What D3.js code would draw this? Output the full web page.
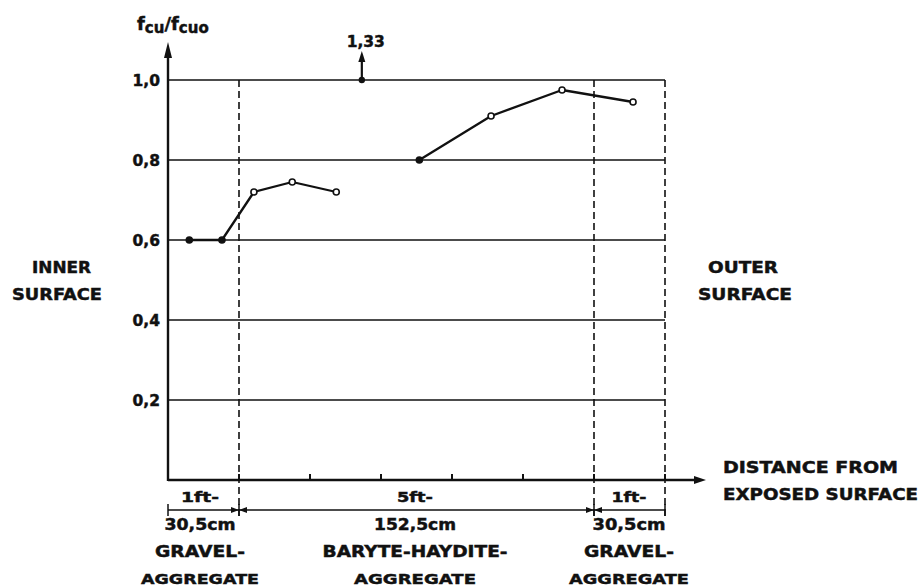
<!DOCTYPE html>
<html><head><meta charset="utf-8">
<script src="https://cdn.jsdelivr.net/npm/d3@7"></script>
<style>
html,body{margin:0;padding:0;background:#fff;}
text{font-family:"DejaVu Sans",sans-serif;font-weight:bold;fill:#111;stroke:#111;stroke-width:0.45px;}
</style></head>
<body><svg id="c" width="924" height="588"></svg>
<script>
// ---- data ----
const yTicks = [0.2, 0.4, 0.6, 0.8, 1.0];
const yTickLabels = ["0,2", "0,4", "0,6", "0,8", "1,0"];
const xTicks = [1, 2, 3, 4, 5, 6, 7];
const zoneBounds = [0, 1, 6, 7];            // ft
const zoneTop = ["1ft-", "5ft-", "1ft-"];
const zoneCm = ["30,5cm", "152,5cm", "30,5cm"];
const zoneName1 = ["GRAVEL-", "BARYTE-HAYDITE-", "GRAVEL-"];
const zoneName2 = ["AGGREGATE", "AGGREGATE", "AGGREGATE"];
const s1x = [0.30, 0.76, 1.21, 1.75, 2.37];
const s1y = [0.60, 0.60, 0.72, 0.745, 0.72];
const s1filled = [true, true, false, false, false];
const s2x = [3.54, 4.55, 5.55, 6.55];
const s2y = [0.80, 0.91, 0.975, 0.945];
const s2filled = [true, false, false, false];
const outX = 2.73, outY = 1.0, outLabel = "1,33";

// ---- scales ----
const x = d3.scaleLinear().domain([0, 7]).range([168, 665]);
const y = d3.scaleLinear().domain([0, 1]).range([480, 80]);
const svg = d3.select("#c");
const ink = "#111";

// gridlines (horizontal solid)
svg.append("g").selectAll("line").data(yTicks).join("line")
  .attr("x1", x(0)).attr("x2", x(7)).attr("y1", d => y(d)).attr("y2", d => y(d))
  .attr("stroke", ink).attr("stroke-width", 1.6);

// vertical dashed zone lines
svg.append("g").selectAll("line").data([1, 6, 7]).join("line")
  .attr("x1", d => x(d)).attr("x2", d => x(d)).attr("y1", y(1)).attr("y2", 516)
  .attr("stroke", ink).attr("stroke-width", 1.6).attr("stroke-dasharray", "7,4");

// x-axis ticks
svg.append("g").selectAll("line").data(xTicks).join("line")
  .attr("x1", d => x(d)).attr("x2", d => x(d)).attr("y1", 474).attr("y2", 480)
  .attr("stroke", ink).attr("stroke-width", 2);

// axes
svg.append("line").attr("x1", x(0)).attr("x2", 698).attr("y1", 480).attr("y2", 480)
  .attr("stroke", ink).attr("stroke-width", 2.4);
svg.append("path").attr("d", "M706,480 L694,476 L694,484 Z").attr("fill", ink);
svg.append("line").attr("x1", x(0)).attr("x2", x(0)).attr("y1", 481).attr("y2", 52)
  .attr("stroke", ink).attr("stroke-width", 2.4);
svg.append("path").attr("d", "M168,42 L164,58 L172,58 Z").attr("fill", ink);

// y tick labels
svg.append("g").selectAll("text").data(yTicks).join("text")
  .attr("x", 160).attr("y", d => y(d) + 6).attr("text-anchor", "end")
  .attr("font-size", 15.5).text((d, i) => yTickLabels[i]);

// y axis title f_cu / f_cuo
const yt = svg.append("text").attr("x", 137).attr("y", 30).attr("font-size", 18);
yt.append("tspan").text("f");
yt.append("tspan").attr("font-size", 15).attr("dy", 3).text("cu");
yt.append("tspan").attr("dy", -3).text("/f");
yt.append("tspan").attr("font-size", 15).attr("dy", 3).text("cuo");

// data lines
const line = d3.line().x(d => x(d[0])).y(d => y(d[1]));
const s1 = s1x.map((v, i) => [v, s1y[i], s1filled[i]]);
const s2 = s2x.map((v, i) => [v, s2y[i], s2filled[i]]);
[s1, s2].forEach(s => {
  svg.append("path").datum(s).attr("d", line).attr("fill", "none")
    .attr("stroke", ink).attr("stroke-width", 2.3).attr("stroke-linejoin", "round");
  svg.append("g").selectAll("circle").data(s).join("circle")
    .attr("cx", d => x(d[0])).attr("cy", d => y(d[1])).attr("r", 3)
    .attr("fill", d => d[2] ? ink : "#fff").attr("stroke", ink).attr("stroke-width", 1.6);
});

// off-scale point with arrow
svg.append("circle").attr("cx", x(outX)).attr("cy", y(outY)).attr("r", 3.2).attr("fill", ink);
svg.append("line").attr("x1", x(outX)).attr("x2", x(outX)).attr("y1", y(outY)).attr("y2", 60)
  .attr("stroke", ink).attr("stroke-width", 2.2);
svg.append("path").attr("d", `M${x(outX)},51 L${x(outX)-3.5},62 L${x(outX)+3.5},62 Z`).attr("fill", ink);
svg.append("text").attr("x", x(outX) + 4).attr("y", 47).attr("text-anchor", "middle")
  .attr("font-size", 15.5).attr("textLength", 38).text(outLabel);

// side labels
function label(t, cx, by, w, fs) {
  svg.append("text").attr("x", cx).attr("y", by).attr("text-anchor", "middle")
    .attr("font-size", fs || 15).attr("textLength", w).attr("lengthAdjust", "spacingAndGlyphs").text(t);
}
label("INNER", 61.5, 273, 59);
label("SURFACE", 57, 300, 90);
label("OUTER", 743, 273, 70);
label("SURFACE", 745, 300, 94);
svg.append("text").attr("x", 723).attr("y", 473).attr("font-size", 15)
  .attr("textLength", 175).attr("lengthAdjust", "spacingAndGlyphs").text("DISTANCE  FROM");
svg.append("text").attr("x", 723).attr("y", 500).attr("font-size", 15)
  .attr("textLength", 195).attr("lengthAdjust", "spacingAndGlyphs").text("EXPOSED  SURFACE");

// dimension line
svg.append("line").attr("x1", x(0)).attr("x2", x(7)).attr("y1", 510).attr("y2", 510)
  .attr("stroke", ink).attr("stroke-width", 1.5);
svg.append("g").selectAll("line").data(zoneBounds).join("line")
  .attr("x1", d => x(d)).attr("x2", d => x(d)).attr("y1", 504).attr("y2", 516)
  .attr("stroke", ink).attr("stroke-width", 1.5);
[[1, -1], [1, 1], [6, -1], [6, 1]].forEach(([b, dir]) => {
  const px = x(b);
  svg.append("path").attr("d", `M${px},510 L${px + dir * 8},507 L${px + dir * 8},513 Z`).attr("fill", ink);
});

// zone labels
const zc = [200, 415, 629];
const wTop = [38, 36, 35], wCm = [71, 82, 73], wN1 = [90, 185, 90], wN2 = [118, 122, 120];
zc.forEach((c, i) => {
  label(zoneTop[i], c, 502, wTop[i], 14);
  label(zoneCm[i], c, 530, wCm[i], 15);
  label(zoneName1[i], c, 557, wN1[i], 15);
  label(zoneName2[i], c, 584, wN2[i], 14.5);
});
</script></body></html>
